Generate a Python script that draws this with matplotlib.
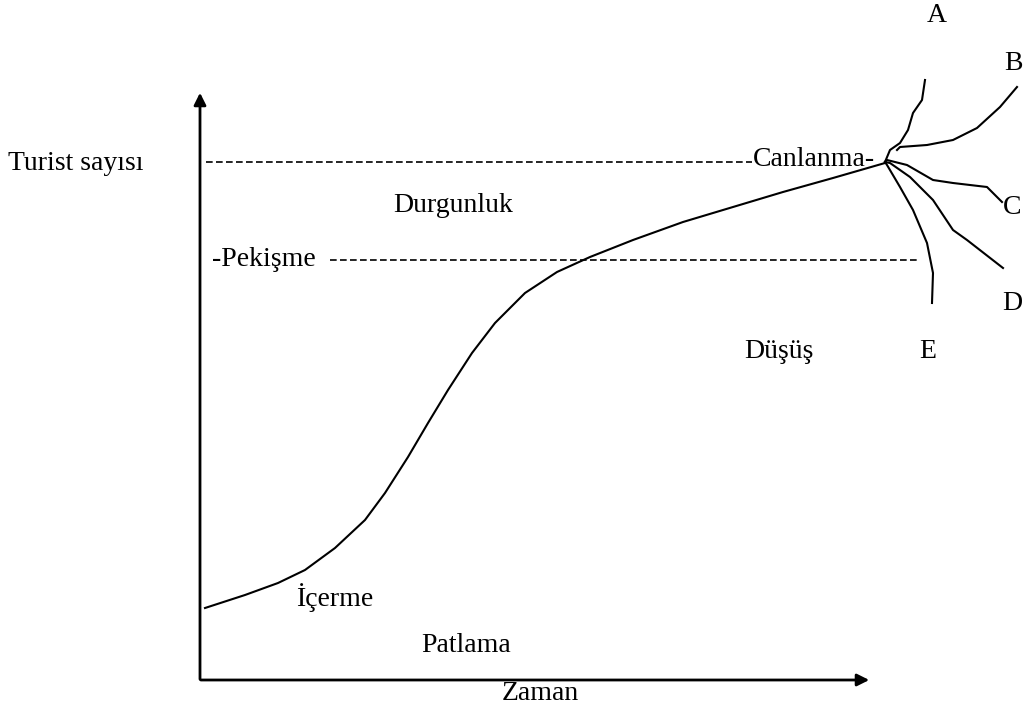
import matplotlib.pyplot as plt

# main life-cycle curve (x = time, y = tourist count, in picture units, y grows downward)
curve_x = [205, 245, 278, 305, 335, 365, 385, 408, 428, 448, 472, 495, 525, 557, 590,
           633, 683, 733, 783, 833, 885]
curve_y = [608, 595, 583, 570, 548, 520, 493, 457, 423, 390, 353, 323, 293, 272, 257,
           240, 222, 207, 192, 178, 163]

# branches after the rejuvenation point
branch_a_x = [885, 890, 900, 908, 913, 922, 925]
branch_a_y = [162, 150, 143, 130, 113, 100, 80]
branch_b_x = [897, 900, 927, 953, 977, 1000, 1017]
branch_b_y = [150, 147, 145, 140, 128, 107, 87]
branch_c_x = [885, 887, 907, 933, 953, 987, 1002]
branch_c_y = [162, 160, 165, 180, 183, 187, 202]
branch_d_x = [885, 890, 910, 933, 953, 967, 1003]
branch_d_y = [162, 163, 177, 200, 230, 240, 268]
branch_e_x = [885, 887, 900, 913, 927, 933, 932]
branch_e_y = [162, 165, 187, 210, 243, 273, 303]

branch_names = ['A', 'B', 'C', 'D', 'E']
branch_label_pos = [(937, 15), (1013, 63), (1012, 207), (1012, 303), (928, 352)]

# stage labels
stage_names = ['İçerme', 'Patlama', 'Durgunluk', 'Düşüş']
stage_pos = [(335, 598), (466, 645), (453, 206), (779, 352)]

plt.rcParams['font.family'] = ['Liberation Serif', 'DejaVu Serif']

fig = plt.figure(figsize=(10.26, 7.10), dpi=100)
ax = fig.add_axes([0, 0, 1, 1])
ax.set_xlim(0, 1026)
ax.set_ylim(710, 0)
ax.axis('off')

# axes with arrows
ax.annotate('', xy=(200, 90), xytext=(200, 682),
            arrowprops=dict(arrowstyle='-|>', color='black', lw=2, mutation_scale=18))
ax.annotate('', xy=(872, 680), xytext=(198, 680),
            arrowprops=dict(arrowstyle='-|>', color='black', lw=2, mutation_scale=18))

# dashed reference lines
ax.plot([206, 752], [162, 162], color='black', lw=1.2, linestyle=(0, (4, 2)))
ax.plot([330, 920], [260, 260], color='black', lw=1.2, linestyle=(0, (4, 2)))

ax.plot(curve_x, curve_y, color='black', lw=1.5)
for bx, by in [(branch_a_x, branch_a_y), (branch_b_x, branch_b_y), (branch_c_x, branch_c_y),
               (branch_d_x, branch_d_y), (branch_e_x, branch_e_y)]:
    ax.plot(bx, by, color='black', lw=1.5)

fs = 20
ax.text(8, 163, 'Turist sayısı', fontsize=fs, va='center', ha='left')
ax.text(212, 260, '-Pekişme', fontsize=fs, va='center', ha='left')
ax.text(753, 160, 'Canlanma-', fontsize=fs, va='center', ha='left')
ax.text(540, 693, 'Zaman', fontsize=fs, va='center', ha='center')

for name, (x, y) in zip(stage_names, stage_pos):
    ax.text(x, y, name, fontsize=fs, va='center', ha='center')
for name, (x, y) in zip(branch_names, branch_label_pos):
    ax.text(x, y, name, fontsize=fs, va='center', ha='center')

fig.savefig('out.png', dpi=100)
